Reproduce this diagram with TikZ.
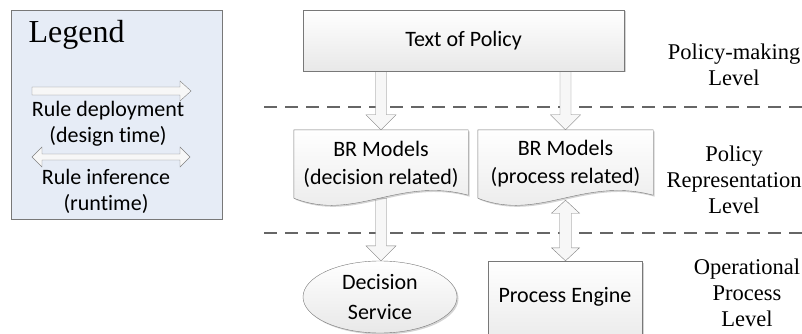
\documentclass[tikz,border=0pt]{standalone}
\usepackage{fontspec}
\setmainfont{Liberation Serif}
\newfontfamily\calibfont[Ligatures=NoCommon]{Carlito}
\usepackage{tikz}
\usetikzlibrary{calc,shapes.geometric,shadows,backgrounds}

\definecolor{legendblue}{RGB}{230,236,246}
\definecolor{framegray}{RGB}{120,120,120}

\tikzset{
  boxfill/.style={draw=framegray, top color=white, bottom color=black!9,
    drop shadow={shadow xshift=1.5pt, shadow yshift=-1.5pt, opacity=.35}},
  sansfont/.style={font=\calibfont\fontsize{22}{28}\selectfont},
  policybox/.style={boxfill, rectangle, inner sep=0pt, sansfont},
  docbox/.style={rectangle, inner sep=0pt, minimum height=68pt, align=center, sansfont},
  blkarrow/.style={draw=black!50, fill=black!3, line join=miter},
  levelsep/.style={draw=black!60, line width=1.4pt, dash pattern=on 13pt off 8pt},
  leveltext/.style={align=center, font=\fontsize{22.5}{26}\selectfont},
  legendtext/.style={align=center, font=\calibfont\fontsize{22}{26}\selectfont}
}

% block arrow pointing down, from #1 to the tip #2
\newcommand{\downblk}[2]{%
  \draw[blkarrow] let \p1=(#1), \p2=(#2) in
    (\x1-5.5pt,\y1) -- (\x1-5.5pt,\y2+15pt) -- (\x1-15pt,\y2+15pt) -- (\x1,\y2)
    -- (\x1+15pt,\y2+15pt) -- (\x1+5.5pt,\y2+15pt) -- (\x1+5.5pt,\y1) -- cycle;}
% block arrow with a head at both ends, tips #1 (top) and #2 (bottom)
\newcommand{\twinblk}[2]{%
  \draw[blkarrow] let \p1=(#1), \p2=(#2) in
    (\x1,\y1) -- (\x1+14pt,\y1-13pt) -- (\x1+6pt,\y1-13pt) -- (\x1+6pt,\y2+13pt)
    -- (\x1+14pt,\y2+13pt) -- (\x1,\y2) -- (\x1-14pt,\y2+13pt) -- (\x1-6pt,\y2+13pt)
    -- (\x1-6pt,\y1-13pt) -- (\x1-14pt,\y1-13pt) -- cycle;}
% document outline with a wavy bottom round node #1
\newcommand{\docshape}[1]{%
  \draw[boxfill] let \p1=(#1.north west), \p2=(#1.south east) in
    (\p1) -- (\x2,\y1) -- (\x2,\y2+3pt)
    .. controls (0.4*\x1+0.6*\x2,\y2+22pt) and (0.65*\x1+0.35*\x2,\y2-24pt) .. (\x1,\y2)
    -- cycle;}

\begin{document}
\begin{tikzpicture}[x=1pt,y=-1pt]
  \useasboundingbox (0,0) rectangle (802,334);

  % legend
  \node[draw=framegray, fill=legendblue, minimum width=211pt, minimum height=209pt,
        drop shadow={shadow xshift=1pt, shadow yshift=-1pt, opacity=.3}] (legend) at (116.5,114.5) {};
  \node[anchor=base west, font=\fontsize{32}{36}\selectfont] (legtitle) at (25,43) {Legend};
  \draw[blkarrow] (32,87) -- (180,87) -- (180,81) -- (191,91) -- (180,101) -- (180,95) -- (32,95) -- cycle;
  \node[legendtext] (deploy) at (108,124) {Rule deployment\\(design time)};
  \draw[blkarrow] (32,157) -- (42,147) -- (42,154) -- (180,154) -- (180,147) -- (190,157)
    -- (180,167) -- (180,160) -- (42,160) -- (42,167) -- cycle;
  \node[legendtext] (infer) at (106,191) {Rule inference\\(runtime)};

  % boxes
  \node[policybox, minimum width=321pt, minimum height=61pt] (policy) at (463.5,40.5) {Text of Policy};
  \node[docbox, minimum width=174pt] (decBR) at (381,164) {BR Models\\(decision related)};
  \node[docbox, minimum width=175pt] (prcBR) at (565.5,164) {BR Models\\(process related)};
  \node[boxfill, ellipse, inner sep=0pt, minimum width=154pt, minimum height=72pt, align=center,
        font=\calibfont\fontsize{22}{30}\selectfont] (dserv) at (380,297) {Decision\\Service};
  \node[policybox, minimum width=154pt, minimum height=90pt, text height=15pt, text depth=23pt]
        (peng) at (565,306) {Process Engine};

  % levels
  \node[leveltext] (lvlpol) at (734,65) {Policy-making\\Level};
  \node[leveltext] (lvlrep) at (734,180) {Policy\\Representation\\Level};
  \node[leveltext] (lvlop) at (747,293) {Operational\\Process\\Level};

  \begin{scope}[on background layer]
    \coordinate (sepA) at (264,107);
    \coordinate (sepB) at (264,233);
    \draw[levelsep] (sepA) -- (sepA -| 802,0);
    \draw[levelsep] (sepB) -- (sepB -| 802,0);
    \downblk{policy.south -| decBR}{decBR.north}
    \downblk{policy.south -| prcBR}{prcBR.north}
    \downblk{decBR.south}{dserv.north}
    \twinblk{[yshift=-2pt]prcBR.south}{peng.north}
    \docshape{decBR}
    \docshape{prcBR}
  \end{scope}
\end{tikzpicture}
\end{document}
